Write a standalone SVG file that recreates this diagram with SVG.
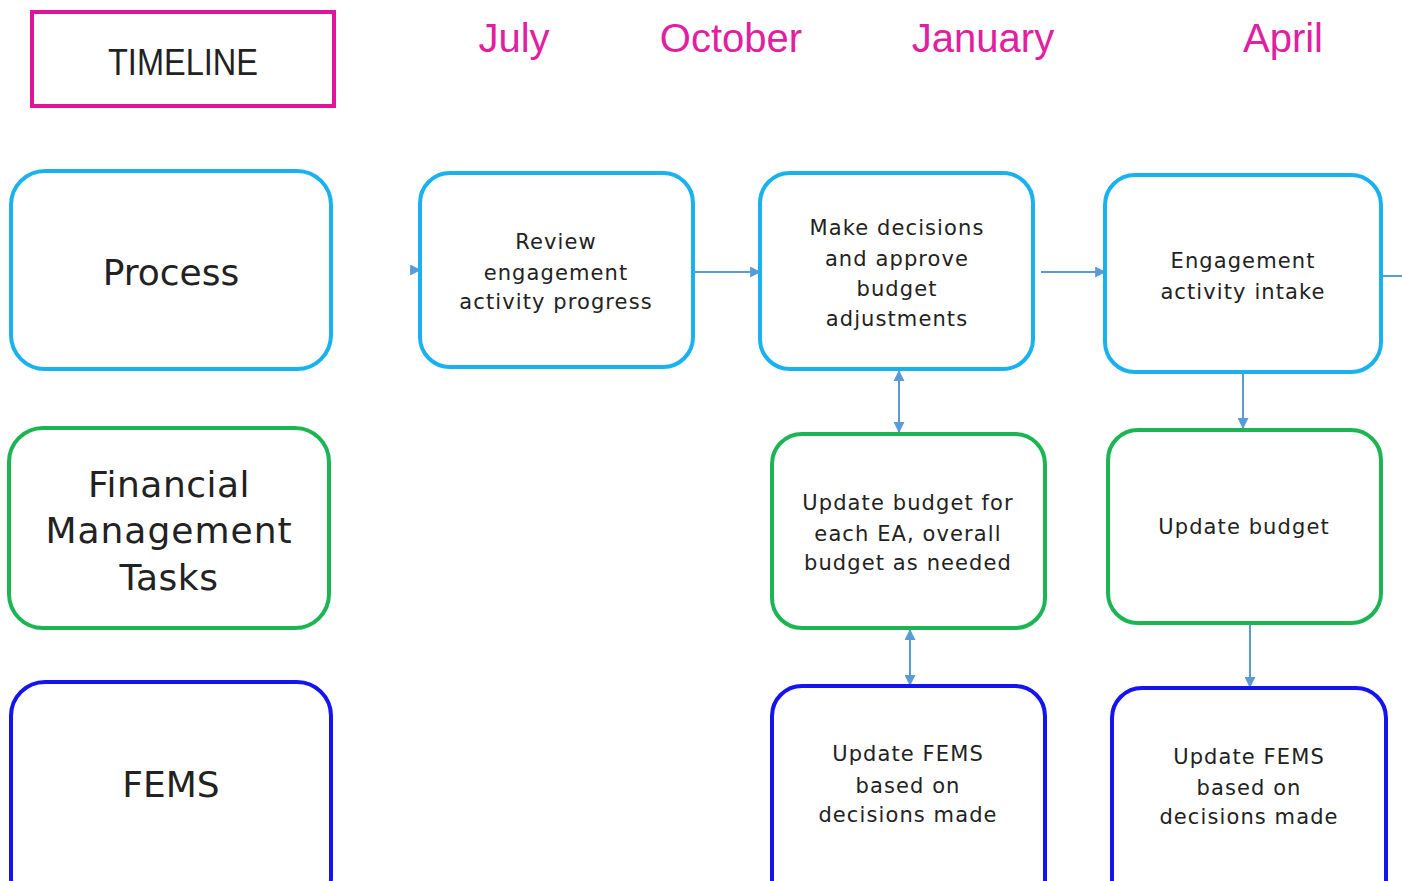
<svg xmlns="http://www.w3.org/2000/svg" width="1402" height="881" viewBox="0 0 1402 881">
  <defs>
    <marker id="arrow" viewBox="0 0 10 10" refX="9" refY="5" markerWidth="5.5" markerHeight="5.5" orient="auto-start-reverse" markerUnits="strokeWidth">
      <path d="M0,0 L10,5 L0,10 z" fill="#5B9BD5"/>
    </marker>
    <style>
      .box { fill: #fff; stroke-width: 4; }
      .proc { stroke: #1AB2EE; }
      .fin { stroke: #1DB553; }
      .fems { stroke: #1414F0; }
      .lane { font-family: "DejaVu Sans", "Liberation Sans", sans-serif; font-size: 36px; fill: #222; text-anchor: middle; }
      .txt { font-family: "DejaVu Sans", "Liberation Sans", sans-serif; font-size: 21px; letter-spacing: 1.1px; fill: #222; text-anchor: middle; }
      .month { font-family: "Liberation Sans", sans-serif; font-size: 40px; fill: #E020A0; text-anchor: middle; }
      .conn { stroke: #5B9BD5; stroke-width: 2; fill: none; }
    </style>
  </defs>

  <rect width="1402" height="881" fill="#fff"/>

  <!-- timeline header -->
  <g id="timeline">
    <rect x="32" y="12" width="302" height="94" fill="#fff" stroke="#E0149A" stroke-width="4"/>
    <text x="183" y="75" font-family="Liberation Sans, sans-serif" font-size="36" fill="#222" text-anchor="middle" textLength="150" lengthAdjust="spacingAndGlyphs">TIMELINE</text>
  </g>
  <g id="months">
    <text class="month" x="514" y="52">July</text>
    <text class="month" x="731" y="52">October</text>
    <text class="month" x="983" y="52">January</text>
    <text class="month" x="1283" y="52">April</text>
  </g>

  <!-- swimlane labels -->
  <g id="lane-process">
    <rect class="box proc" x="11" y="171" width="320" height="198" rx="34"/>
    <text class="lane" x="171" y="285">Process</text>
  </g>
  <g id="lane-financial">
    <rect class="box fin" x="9" y="428" width="320" height="200" rx="34"/>
    <text class="lane" x="169" y="497" letter-spacing="0.5">Financial</text>
    <text class="lane" x="169" y="543" letter-spacing="1">Management</text>
    <text class="lane" x="169" y="590" letter-spacing="0.5">Tasks</text>
  </g>
  <g id="lane-fems">
    <rect class="box fems" x="11" y="682" width="320" height="230" rx="34"/>
    <text class="lane" x="171" y="797">FEMS</text>
  </g>

  <!-- connectors -->
  <g id="connectors">
    <line class="conn" x1="410" y1="270" x2="420" y2="270" marker-end="url(#arrow)"/>
    <line class="conn" x1="694" y1="272" x2="760" y2="272" marker-end="url(#arrow)"/>
    <line class="conn" x1="1041" y1="272" x2="1105" y2="272" marker-end="url(#arrow)"/>
    <line class="conn" x1="1383" y1="276" x2="1402" y2="276"/>
    <line class="conn" x1="899" y1="371" x2="899" y2="432" marker-start="url(#arrow)" marker-end="url(#arrow)"/>
    <line class="conn" x1="910" y1="630" x2="910" y2="685" marker-start="url(#arrow)" marker-end="url(#arrow)"/>
    <line class="conn" x1="1243" y1="374" x2="1243" y2="428" marker-end="url(#arrow)"/>
    <line class="conn" x1="1250" y1="625" x2="1250" y2="687" marker-end="url(#arrow)"/>
  </g>

  <!-- process row -->
  <g id="review">
    <rect class="box proc" x="420" y="173" width="273" height="194" rx="30"/>
    <text class="txt" x="556" y="249">Review</text>
    <text class="txt" x="556" y="280">engagement</text>
    <text class="txt" x="556" y="309">activity progress</text>
  </g>
  <g id="decisions">
    <rect class="box proc" x="760" y="173" width="273" height="196" rx="30"/>
    <text class="txt" x="897" y="235">Make decisions</text>
    <text class="txt" x="897" y="266">and approve</text>
    <text class="txt" x="897" y="296">budget</text>
    <text class="txt" x="897" y="326">adjustments</text>
  </g>
  <g id="intake">
    <rect class="box proc" x="1105" y="175" width="276" height="197" rx="30"/>
    <text class="txt" x="1243" y="268">Engagement</text>
    <text class="txt" x="1243" y="299">activity intake</text>
  </g>

  <!-- financial row -->
  <g id="budget-ea">
    <rect class="box fin" x="772" y="434" width="273" height="194" rx="30"/>
    <text class="txt" x="908" y="510">Update budget for</text>
    <text class="txt" x="908" y="541">each EA, overall</text>
    <text class="txt" x="908" y="570">budget as needed</text>
  </g>
  <g id="budget">
    <rect class="box fin" x="1108" y="430" width="273" height="193" rx="30"/>
    <text class="txt" x="1244" y="534">Update budget</text>
  </g>

  <!-- FEMS row -->
  <g id="fems-jan">
    <rect class="box fems" x="772" y="686" width="273" height="230" rx="30"/>
    <text class="txt" x="908" y="761">Update FEMS</text>
    <text class="txt" x="908" y="793">based on</text>
    <text class="txt" x="908" y="822">decisions made</text>
  </g>
  <g id="fems-apr">
    <rect class="box fems" x="1112" y="688" width="274" height="230" rx="30"/>
    <text class="txt" x="1249" y="764">Update FEMS</text>
    <text class="txt" x="1249" y="795">based on</text>
    <text class="txt" x="1249" y="824">decisions made</text>
  </g>
</svg>
